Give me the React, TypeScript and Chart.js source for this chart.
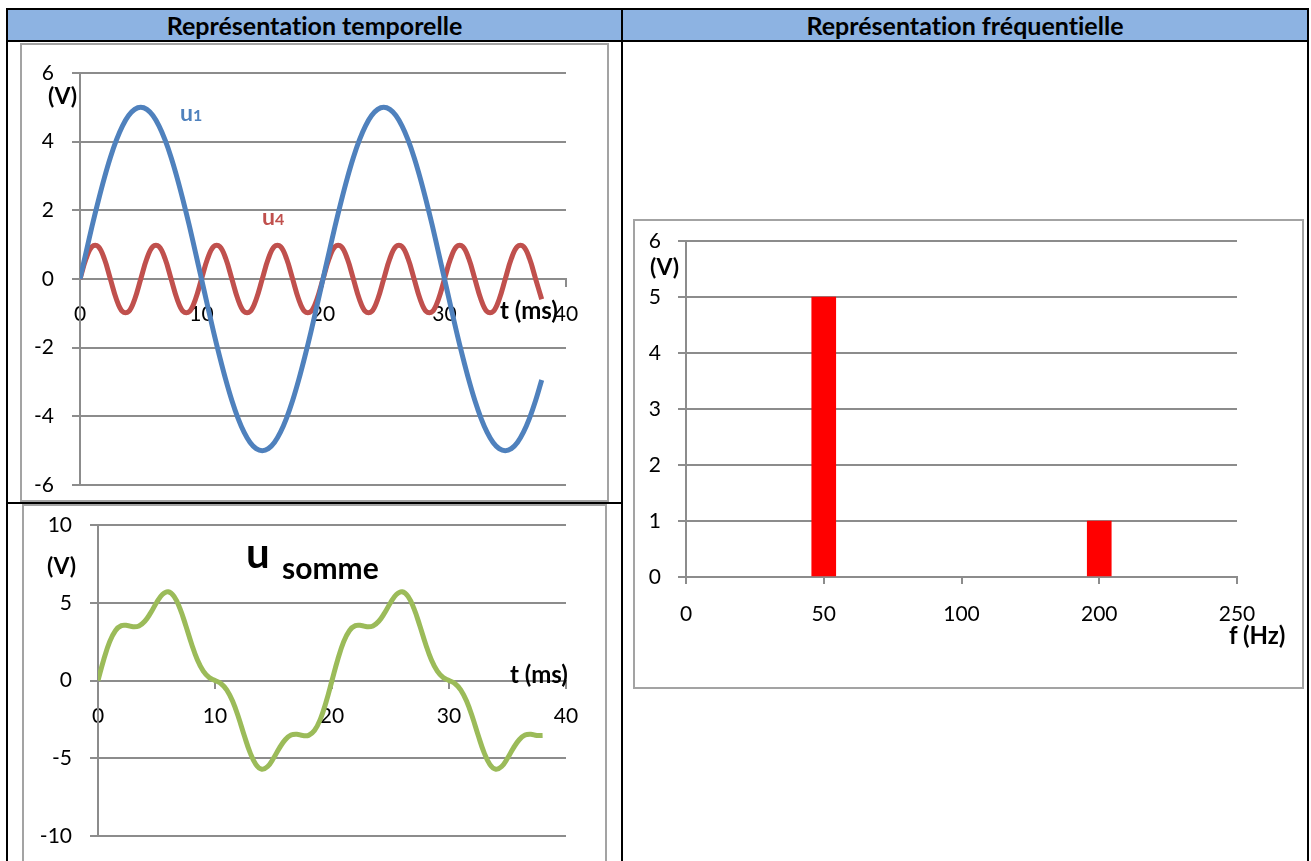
import React, { useEffect, useRef } from "react";
import { Chart, registerables } from "chart.js";

Chart.register(...registerables);

// ---------- data ----------
const TIME_MS = [
  0, 0.5, 1, 1.5, 2, 2.5, 3, 3.5, 4, 4.5, 5, 5.5, 6, 6.5, 7, 7.5, 8, 8.5, 9, 9.5,
  10, 10.5, 11, 11.5, 12, 12.5, 13, 13.5, 14, 14.5, 15, 15.5, 16, 16.5, 17, 17.5, 18, 18.5, 19, 19.5,
  20, 20.5, 21, 21.5, 22, 22.5, 23, 23.5, 24, 24.5, 25, 25.5, 26, 26.5, 27, 27.5, 28, 28.5, 29, 29.5,
  30, 30.5, 31, 31.5, 32, 32.5, 33, 33.5, 34, 34.5, 35, 35.5, 36, 36.5, 37, 37.5, 38,
];

const U1 = [
  0, 0.78, 1.55, 2.27, 2.94, 3.54, 4.05, 4.46, 4.76, 4.94, 5, 4.94, 4.76, 4.46, 4.05, 3.54, 2.94, 2.27, 1.55, 0.78,
  0, -0.78, -1.55, -2.27, -2.94, -3.54, -4.05, -4.46, -4.76, -4.94, -5, -4.94, -4.76, -4.46, -4.05, -3.54, -2.94, -2.27, -1.55, -0.78,
  0, 0.78, 1.55, 2.27, 2.94, 3.54, 4.05, 4.46, 4.76, 4.94, 5, 4.94, 4.76, 4.46, 4.05, 3.54, 2.94, 2.27, 1.55, 0.78,
  0, -0.78, -1.55, -2.27, -2.94, -3.54, -4.05, -4.46, -4.76, -4.94, -5, -4.94, -4.76, -4.46, -4.05, -3.54, -2.94,
];

const U4 = [
  0, 0.59, 0.95, 0.95, 0.59, 0, -0.59, -0.95, -0.95, -0.59,
  0, 0.59, 0.95, 0.95, 0.59, 0, -0.59, -0.95, -0.95, -0.59,
  0, 0.59, 0.95, 0.95, 0.59, 0, -0.59, -0.95, -0.95, -0.59,
  0, 0.59, 0.95, 0.95, 0.59, 0, -0.59, -0.95, -0.95, -0.59,
  0, 0.59, 0.95, 0.95, 0.59, 0, -0.59, -0.95, -0.95, -0.59,
  0, 0.59, 0.95, 0.95, 0.59, 0, -0.59, -0.95, -0.95, -0.59,
  0, 0.59, 0.95, 0.95, 0.59, 0, -0.59, -0.95, -0.95, -0.59,
  0, 0.59, 0.95, 0.95, 0.59, 0, -0.59,
];

const U_SOMME = [
  0, 1.37, 2.5, 3.22, 3.53, 3.54, 3.46, 3.51, 3.81, 4.35, 5, 5.53, 5.71, 5.41, 4.64, 3.54, 2.35, 1.32, 0.6, 0.19,
  0, -0.19, -0.6, -1.32, -2.35, -3.54, -4.64, -5.41, -5.71, -5.53, -5, -4.35, -3.81, -3.51, -3.46, -3.54, -3.53, -3.22, -2.5, -1.37,
  0, 1.37, 2.5, 3.22, 3.53, 3.54, 3.46, 3.51, 3.81, 4.35, 5, 5.53, 5.71, 5.41, 4.64, 3.54, 2.35, 1.32, 0.6, 0.19,
  0, -0.19, -0.6, -1.32, -2.35, -3.54, -4.64, -5.41, -5.71, -5.53, -5, -4.35, -3.81, -3.51, -3.46, -3.54, -3.53,
];

const FREQ_LABELS = ["0", "50", "100", "200", "250"];
const AMPLITUDES = [null, 5, null, 1, null];

const HEADER_LEFT = "Représentation temporelle";
const HEADER_RIGHT = "Représentation fréquentielle";

// ---------- styles ----------
const FONT = "Lato, 'Open Sans', sans-serif";
const GRID = "#8c8c8c";
const BLUE = "#4F81BD";
const RED = "#C0504D";
const GREEN = "#9BBB59";
const TICK_FONT = { family: FONT, size: 21 };

function pts(ys: number[]) {
  return TIME_MS.map((t, i) => ({ x: t, y: ys[i] }));
}

function timeScales(ymin: number, ymax: number, ystep: number, yWidth: number) {
  return {
    x: {
      type: "linear" as const,
      min: 0,
      max: 40,
      position: { y: 0 } as any,
      ticks: { stepSize: 10, color: "#000", font: TICK_FONT, padding: 16, maxRotation: 0 },
      grid: { drawOnChartArea: false, drawTicks: true, tickLength: 7, color: GRID, lineWidth: 2 },
      border: { display: true, color: GRID, width: 2 },
    },
    y: {
      type: "linear" as const,
      min: ymin,
      max: ymax,
      ticks: { stepSize: ystep, color: "#000", font: TICK_FONT, padding: 18 },
      grid: { color: GRID, lineWidth: 2, tickLength: 8 },
      border: { display: true, color: GRID, width: 2 },
      afterFit: (s: any) => {
        s.width = yWidth;
      },
    },
  };
}

function ChartCanvas(props: { left: number; top: number; width: number; height: number; make: () => any }) {
  const ref = useRef<HTMLCanvasElement>(null);
  useEffect(() => {
    const chart = new Chart(ref.current as HTMLCanvasElement, props.make());
    return () => chart.destroy();
  }, []);
  const { left, top, width, height } = props;
  return (
    <div style={{ position: "absolute", left, top, width, height }}>
      <canvas ref={ref} width={width} height={height} style={{ width, height, display: "block" }} />
    </div>
  );
}

function Box(p: { l: number; t: number; w: number; h: number; c: string }) {
  return <div style={{ position: "absolute", left: p.l, top: p.t, width: p.w, height: p.h, background: p.c }} />;
}

function Frame(p: { l: number; t: number; w: number; h: number }) {
  return (
    <div
      style={{
        position: "absolute",
        left: p.l,
        top: p.t,
        width: p.w,
        height: p.h,
        border: "2px solid #a3a3a3",
        boxSizing: "border-box",
        background: "#fff",
      }}
    />
  );
}

function Label(p: { l: number; t: number; size: number; color?: string; children: any }) {
  return (
    <div
      style={{
        position: "absolute",
        left: p.l,
        top: p.t,
        fontSize: p.size,
        lineHeight: 1,
        fontWeight: 700,
        color: p.color || "#000",
        whiteSpace: "nowrap",
        fontFamily: FONT,
      }}
    >
      {p.children}
    </div>
  );
}

const common = {
  responsive: false,
  animation: false as const,
  devicePixelRatio: 1,
  plugins: { legend: { display: false }, tooltip: { enabled: false } },
};

function makeChart1() {
  return {
    type: "line",
    data: {
      datasets: [
        { data: pts(U1), borderColor: BLUE, borderWidth: 5, pointRadius: 0, tension: 0.4, fill: false },
        { data: pts(U4), borderColor: RED, borderWidth: 5, pointRadius: 0, tension: 0.4, fill: false },
      ],
    },
    options: {
      ...common,
      layout: { padding: { left: 0, top: 35, right: 42, bottom: 35 } },
      scales: timeScales(-6, 6, 2, 59),
    },
  };
}

function makeChart2() {
  return {
    type: "line",
    data: {
      datasets: [{ data: pts(U_SOMME), borderColor: GREEN, borderWidth: 5, pointRadius: 0, tension: 0.4, fill: false }],
    },
    options: {
      ...common,
      layout: { padding: { left: 0, top: 35, right: 39, bottom: 35 } },
      scales: timeScales(-10, 10, 5, 75),
    },
  };
}

function makeChart3() {
  return {
    type: "bar",
    data: {
      labels: FREQ_LABELS,
      datasets: [{ data: AMPLITUDES, backgroundColor: "#FF0000", barThickness: 24, borderWidth: 0 }],
    },
    options: {
      ...common,
      layout: { padding: { left: 0, top: 35, right: 65, bottom: 0 } },
      scales: {
        x: {
          type: "category",
          offset: false,
          ticks: { color: "#000", font: TICK_FONT, padding: 18, maxRotation: 0, autoSkip: false },
          grid: { offset: false, drawOnChartArea: false, drawTicks: true, tickLength: 7, color: GRID, lineWidth: 2 },
          border: { display: true, color: GRID, width: 2 },
          afterFit: (s: any) => {
            s.height = 110;
          },
        },
        y: {
          min: 0,
          max: 6,
          ticks: { stepSize: 1, color: "#000", font: TICK_FONT, padding: 17 },
          grid: { color: GRID, lineWidth: 2, tickLength: 8 },
          border: { display: true, color: GRID, width: 2 },
          afterFit: (s: any) => {
            s.width = 51;
          },
        },
      },
    },
  };
}

const headerStyle = {
  position: "absolute" as const,
  top: 10,
  height: 31,
  lineHeight: "31px",
  textAlign: "center" as const,
  fontWeight: 700,
  fontSize: 25,
  color: "#000",
  fontVariantLigatures: "none" as const,
  whiteSpace: "nowrap" as const,
};

export default function App() {
  return (
    <div
      style={{
        position: "absolute",
        left: 0,
        top: 0,
        width: 1311,
        height: 861,
        overflow: "hidden",
        background: "#fff",
        fontFamily: FONT,
        fontVariantLigatures: "none",
      }}
    >
      {/* header fill */}
      <Box l={8} t={10} w={1299} h={31} c="#8DB3E2" />
      <div style={{ ...headerStyle, left: 8, width: 613 }}>{HEADER_LEFT}</div>
      <div style={{ ...headerStyle, left: 623, width: 684 }}>{HEADER_RIGHT}</div>

      {/* table lines */}
      <Box l={6} t={8} w={1303} h={2} c="#000" />
      <Box l={6} t={40} w={1303} h={2} c="#000" />
      <Box l={6} t={8} w={2} h={853} c="#000" />
      <Box l={621} t={8} w={2} h={853} c="#000" />
      <Box l={1307} t={8} w={2} h={853} c="#000" />
      <Box l={6} t={502} w={617} h={2} c="#000" />

      {/* chart frames */}
      <Frame l={20} t={43} w={589} h={459} />
      <Frame l={22} t={504} w={585} h={400} />
      <Frame l={633} t={219} w={671} h={470} />

      <ChartCanvas left={21} top={38} width={587} height={482} make={makeChart1} />
      <ChartCanvas left={23} top={490} width={582} height={381} make={makeChart2} />
      <ChartCanvas left={635} top={206} width={667} height={481} make={makeChart3} />

      {/* chart 1 labels */}
      <Label l={48} t={84} size={23}>(V)</Label>
      <Label l={180} t={101} size={23} color={BLUE}>
        u<span style={{ fontSize: 16 }}>1</span>
      </Label>
      <Label l={262} t={205} size={23} color={RED}>
        u<span style={{ fontSize: 16 }}>4</span>
      </Label>
      <Label l={500} t={298} size={24}>t (ms)</Label>

      {/* chart 2 labels */}
      <Label l={47} t={554} size={23}>(V)</Label>
      <Label l={246} t={531} size={42}>u</Label>
      <Label l={282} t={552} size={30}>somme</Label>
      <Label l={510} t={662} size={24}>t (ms)</Label>

      {/* chart 3 labels */}
      <Label l={650} t={255} size={23}>(V)</Label>
      <Label l={1229} t={623} size={24}>f (Hz)</Label>
    </div>
  );
}
